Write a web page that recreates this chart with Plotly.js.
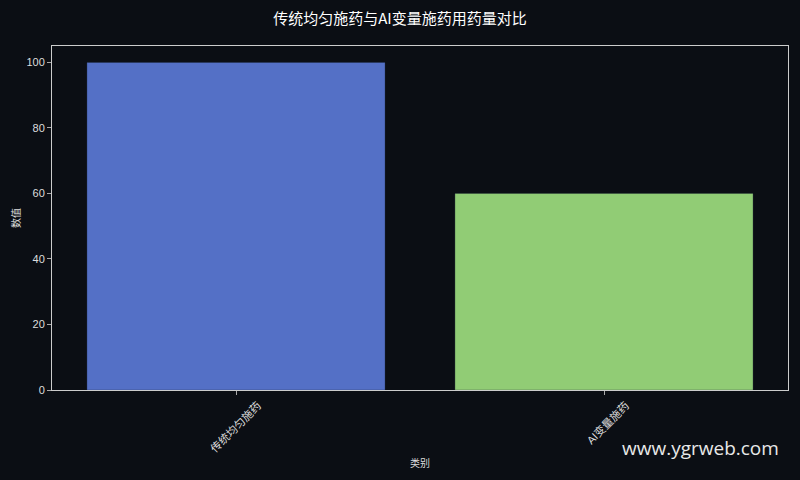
<!DOCTYPE html>
<html>
<head>
<meta charset="utf-8">
<script src="https://cdn.plot.ly/plotly-3.0.1.min.js"></script>
<style>
  html, body { margin: 0; padding: 0; background: #0b0e14; }
  #chart { width: 800px; height: 480px; }
</style>
</head>
<body>
<div id="chart"></div>
<script>
// categories and values
const categories = ['传统均匀施药', 'AI变量施药'];
const dosage = [100, 60];
const barColors = ['#5470c6', '#91cc75'];

const font = '"Liberation Sans", "Noto Sans CJK SC", sans-serif';

let trace = {
    x: categories,
    y: dosage,
    type: 'bar',
    marker: {
        color: barColors,
        line: { color: 'rgba(30,40,60,0.4)', width: 0.8 },
    },
    hoverinfo: 'x+y',
};

let layout = {
    width: 800,
    height: 480,
    paper_bgcolor: '#0b0e14',
    plot_bgcolor: '#0b0e14',
    font: { family: font, color: '#dddddd', size: 11 },
    title: {
        text: '传统均匀施药与AI变量施药用药量对比',
        font: { family: '"Noto Sans CJK SC", sans-serif', size: 15, color: '#ffffff' },
        x: 0.5,
        y: 0.96,
        yanchor: 'middle',
    },
    margin: { l: 52, r: 12, t: 46, b: 90 },
    bargap: 0.19,
    showlegend: false,
    xaxis: {
        type: 'category',
        range: [-0.5, 1.5],
        tickangle: -45,
        ticklabelshift: 22,
        ticks: 'outside',
        ticklen: 4,
        tickcolor: '#aaaaaa',
        showline: true,
        linecolor: '#cccccc',
        linewidth: 1,
        mirror: true,
        showgrid: false,
        zeroline: false,
        tickfont: { size: 11, color: '#dddddd' },
        title: { text: '类别', font: { size: 10, color: '#dddddd' }, standoff: 6 },
    },
    yaxis: {
        range: [0, 105],
        dtick: 20,
        ticks: 'outside',
        ticklen: 4,
        tickcolor: '#aaaaaa',
        showline: true,
        linecolor: '#cccccc',
        linewidth: 1,
        mirror: true,
        showgrid: false,
        zeroline: false,
        tickfont: { size: 11, color: '#dddddd' },
        title: { text: '数值', font: { size: 10, color: '#dddddd' }, standoff: 3 },
    },
    annotations: [{
        text: 'www.ygrweb.com',
        xref: 'paper', yref: 'paper',
        x: 0.991, y: -0.169,
        xanchor: 'right', yanchor: 'middle',
        showarrow: false,
        font: { family: '"Open Sans", "Noto Sans", sans-serif', size: 19, color: '#e8e8e8' },
    }],
};

Plotly.newPlot('chart', [trace], layout, { displayModeBar: false, staticPlot: true });
</script>
</body>
</html>
